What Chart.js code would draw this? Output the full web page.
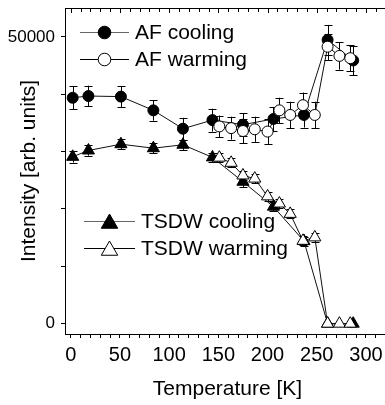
<!DOCTYPE html>
<html>
<head>
<meta charset="utf-8">
<script src="https://cdn.jsdelivr.net/npm/chart.js@4.4.1/dist/chart.umd.min.js"></script>
<style>
  html, body { margin: 0; padding: 0; background: #fff; overflow: hidden; }
  #wrap { width: 400px; height: 405px; }
</style>
</head>
<body>
<div id="wrap"><canvas id="myChart"></canvas></div>
<script>
// temperatures [K]
const coolTemps = [2, 18, 51, 84, 114, 144, 175, 206, 237, 261, 287];
const warmTemps = [151, 163, 175, 187, 200, 212, 223, 236, 248, 261, 273, 284];

// AF peak intensity
const afCooling = [39400, 39700, 39600, 37200, 34000, 35500, 34700, 35700, 36400, 49500, 45900];
const afCoolingErr = [2000, 1800, 1800, 1800, 1900, 2000, 2000, 2100, 2200, 2600, 2600];
const afWarming = [34400, 34100, 33600, 33900, 33500, 37200, 36400, 38100, 36400, 48300, 46700, 46300];
const afWarmingErr = [1900, 2000, 2100, 2200, 2200, 2200, 2300, 2200, 2300, 2300, 2400, 2300];

// TSDW peak intensity
const tsdwCooling = [29100, 30200, 31300, 30600, 31200, 29000, 24750, 20400, 14400, 0, 0];
const tsdwCoolingErr = [1000, 900, 900, 900, 900, 800, 900, 800, 800, 0, 0];
const tsdwWarming = [28950, 28050, 25850, 25300, 22200, 20950, 19150, 14450, 15050, 0, 0, 0];
const tsdwWarmingErr = [800, 800, 800, 800, 800, 800, 800, 800, 800, 0, 0, 0];

// ticks
const xTicks = [0, 10, 20, 30, 40, 50, 60, 70, 80, 90, 100, 110, 120, 130, 140, 150, 160,
  170, 180, 190, 200, 210, 220, 230, 240, 250, 260, 270, 280, 290, 300, 310];
const xLabels = [0, 50, 100, 150, 200, 250, 300];
const yTicks = [0, 10000, 20000, 30000, 40000, 50000];
const yLabels = [0, 50000];

const FONT = "'Liberation Sans', Arial, sans-serif";

function pts(temps, vals) {
  return temps.map((t, i) => ({ x: t, y: vals[i] }));
}

function series(label, temps, vals, errs, style, filled, order) {
  return {
    label: label,
    data: pts(temps, vals),
    errors: errs,
    showLine: true,
    borderColor: '#111',
    borderWidth: 1,
    pointStyle: style,
    pointRadius: style === 'triangle' ? 7 : 5.5,
    pointBorderWidth: 1,
    pointBorderColor: '#000',
    pointBackgroundColor: filled ? '#000' : '#fff',
    order: order
  };
}

// vertical error bars, drawn under the markers
const errorBars = {
  id: 'errorBars',
  beforeDatasetsDraw(chart) {
    const { ctx, scales: { x, y } } = chart;
    ctx.save();
    ctx.strokeStyle = '#000';
    ctx.lineWidth = 1;
    chart.data.datasets.forEach(ds => {
      ds.data.forEach((p, i) => {
        const e = ds.errors[i];
        if (!e) return;
        const px = Math.round(x.getPixelForValue(p.x)) + 0.5;
        const top = y.getPixelForValue(p.y + e);
        const bot = y.getPixelForValue(p.y - e);
        ctx.beginPath();
        ctx.moveTo(px, top); ctx.lineTo(px, bot);
        ctx.moveTo(px - 4, Math.round(top) + 0.5); ctx.lineTo(px + 4, Math.round(top) + 0.5);
        ctx.moveTo(px - 4, Math.round(bot) + 0.5); ctx.lineTo(px + 4, Math.round(bot) + 0.5);
        ctx.stroke();
      });
    });
    ctx.restore();
  }
};

// top frame with inward ticks
const topFrame = {
  id: 'topFrame',
  afterDraw(chart) {
    const { ctx, chartArea: a, scales: { x } } = chart;
    ctx.save();
    ctx.strokeStyle = '#000';
    ctx.lineWidth = 1;
    ctx.beginPath();
    ctx.moveTo(a.left, a.top + 0.5);
    ctx.lineTo(a.right, a.top + 0.5);
    xTicks.forEach(t => {
      const px = Math.round(x.getPixelForValue(t)) + 0.5;
      ctx.moveTo(px, a.top);
      ctx.lineTo(px, a.top + (xLabels.includes(t) ? 5 : 4));
    });
    ctx.moveTo(a.right - 0.5, a.top);
    ctx.lineTo(a.right - 0.5, a.bottom);
    ctx.stroke();
    ctx.restore();
  }
};

// two legend blocks inside the plot
const legendItems = [
  { text: 'AF cooling', style: 'circle', filled: true, x: 80, w: 49, y: 32, line: '#666' },
  { text: 'AF warming', style: 'circle', filled: false, x: 80, w: 49, y: 59, line: '#000' },
  { text: 'TSDW cooling', style: 'triangle', filled: true, x: 84, w: 51, y: 221, line: '#666' },
  { text: 'TSDW warming', style: 'triangle', filled: false, x: 84, w: 51, y: 248, line: '#000' }
];

const innerLegend = {
  id: 'innerLegend',
  afterDraw(chart) {
    const ctx = chart.ctx;
    ctx.save();
    legendItems.forEach(it => {
      ctx.strokeStyle = it.line;
      ctx.lineWidth = 1;
      ctx.beginPath();
      ctx.moveTo(it.x, it.y + 0.5);
      ctx.lineTo(it.x + it.w, it.y + 0.5);
      ctx.stroke();
      const cx = it.x + it.w / 2;
      ctx.fillStyle = it.filled ? '#000' : '#fff';
      ctx.strokeStyle = '#000';
      ctx.beginPath();
      if (it.style === 'circle') {
        ctx.arc(cx, it.y + 0.5, 6.3, 0, Math.PI * 2);
      } else {
        const r = 9.5;
        const cy = it.y + 2.5;
        ctx.moveTo(cx, cy - r);
        ctx.lineTo(cx + r * 0.866, cy + r / 2);
        ctx.lineTo(cx - r * 0.866, cy + r / 2);
        ctx.closePath();
      }
      ctx.fill();
      ctx.stroke();
      ctx.fillStyle = '#000';
      ctx.font = '21px ' + FONT;
      ctx.textBaseline = 'middle';
      ctx.fillText(it.text, it.x + it.w + 6, it.y + 1);
    });
    ctx.restore();
  }
};

new Chart(document.getElementById('myChart'), {
  type: 'scatter',
  data: {
    datasets: [
      series('AF cooling', coolTemps, afCooling, afCoolingErr, 'circle', true, 2),
      series('AF warming', warmTemps, afWarming, afWarmingErr, 'circle', false, 1),
      series('TSDW cooling', coolTemps, tsdwCooling, tsdwCoolingErr, 'triangle', true, 2),
      series('TSDW warming', warmTemps, tsdwWarming, tsdwWarmingErr, 'triangle', false, 1)
    ]
  },
  options: {
    responsive: true,
    maintainAspectRatio: false,
    animation: false,
    events: [],
    layout: { padding: { top: 8, right: 10, left: 0, bottom: 0 } },
    plugins: { legend: { display: false }, tooltip: { enabled: false } },
    scales: {
      x: {
        type: 'linear',
        min: -5.8,
        max: 324.4,
        afterBuildTicks: s => { s.ticks = xTicks.map(v => ({ value: v })); },
        afterFit: s => { s.height = 71; s.paddingLeft = 0; s.paddingRight = 0; },
        grid: { drawOnChartArea: false, drawTicks: true, tickLength: 4, tickColor: '#000' },
        border: { display: true, color: '#000', width: 1 },
        ticks: {
          autoSkip: false, maxRotation: 0, padding: 5, color: '#000',
          font: { family: FONT, size: 20 },
          callback: v => xLabels.includes(v) ? String(v) : ''
        },
        title: {
          display: true, text: 'Temperature [K]', color: '#000',
          font: { family: FONT, size: 21 }, padding: { top: 0, bottom: 3 }
        }
      },
      y: {
        type: 'linear',
        min: -1800,
        max: 55050,
        afterBuildTicks: s => { s.ticks = yTicks.map(v => ({ value: v })); },
        afterFit: s => { s.width = 65; s.paddingTop = 0; s.paddingBottom = 0; },
        grid: { drawOnChartArea: false, drawTicks: true, tickLength: 4, tickColor: '#000' },
        border: { display: true, color: '#000', width: 1 },
        ticks: {
          autoSkip: false, padding: 6, color: '#000',
          font: { family: FONT, size: 17 },
          callback: v => yLabels.includes(v) ? String(v) : ''
        },
        title: {
          display: true, text: 'Intensity [arb. units]', color: '#000',
          font: { family: FONT, size: 21 }, padding: { top: 17, bottom: 0 }
        }
      }
    }
  },
  plugins: [errorBars, topFrame, innerLegend]
});
</script>
</body>
</html>
